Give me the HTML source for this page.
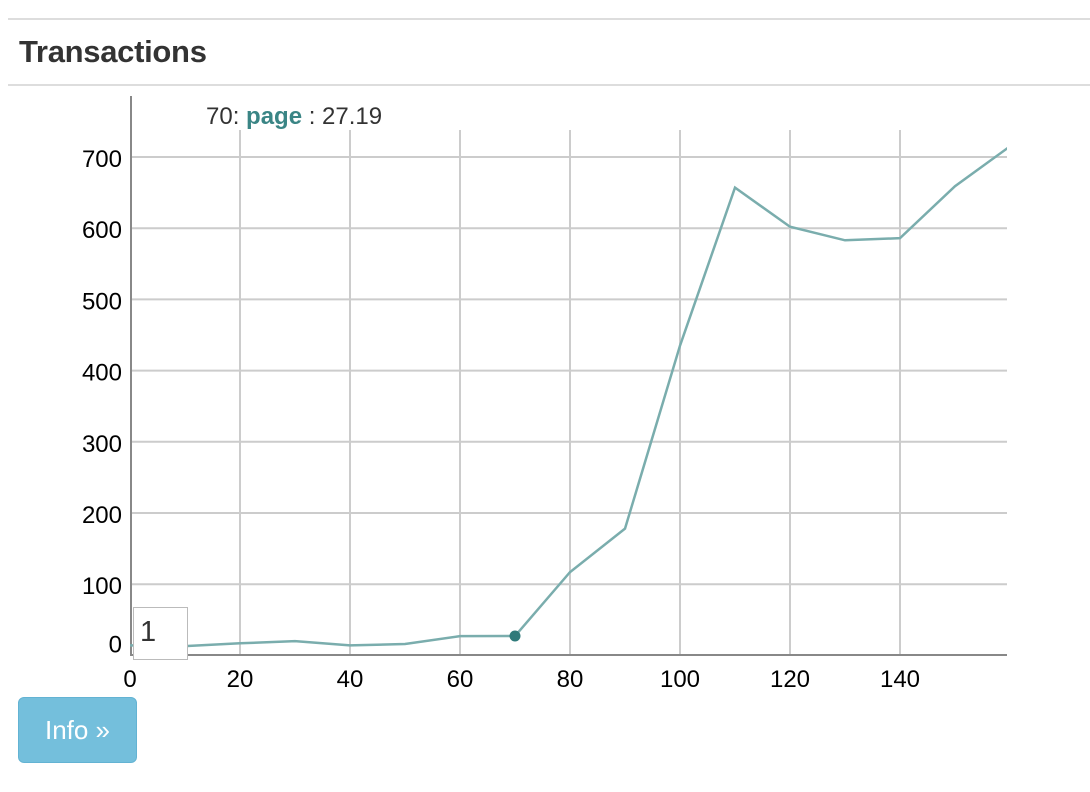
<!DOCTYPE html>
<html><head><meta charset="utf-8"><style>
body{margin:0;background:#fff;font-family:"Liberation Sans",sans-serif;}
#wrap{position:relative;width:1090px;height:792px;overflow:hidden;}
.hr{position:absolute;left:8px;right:0;height:2px;background:#ddd;}
h3{position:absolute;left:19px;top:34px;margin:0;font-size:31px;font-weight:bold;color:#333;letter-spacing:-0.3px;}
#box{position:absolute;left:133px;top:607px;width:55px;height:53px;border:1px solid #bbb;background:#fff;box-sizing:border-box;font-size:29px;color:#333;padding:8px 0 0 6px;}
#btn{position:absolute;left:18px;top:697px;width:119px;height:66px;background:#74bfdc;border:1px solid #63b3d3;border-radius:6px;box-sizing:border-box;color:#fff;font-size:26px;text-align:center;line-height:64px;}
</style></head><body>
<div id="wrap">
<div class="hr" style="top:18px"></div>
<h3>Transactions</h3>
<div class="hr" style="top:84px"></div>
<svg id="chart" width="1090" height="792" style="position:absolute;left:0;top:0"></svg>
<div id="box">1</div>
<div id="btn">Info »</div>
</div>
<script>
const xValues=[0,10,20,30,40,50,60,70,80,90,100,110,120,130,140,150,160];
const yValues=[14,13,17,20,14,16,27,27.19,117,178,435,657,602,583,586,659,715];
const xTicks=[0,20,40,60,80,100,120,140];
const yTicks=[0,100,200,300,400,500,600,700];
const NS="http://www.w3.org/2000/svg";
const svg=document.getElementById('chart');
const X=v=>130+v*5.5, Y=v=>655.4-v*0.712;
function mk(t,a){const e=document.createElementNS(NS,t);for(const k in a)e.setAttribute(k,a[k]);svg.appendChild(e);return e;}
const clip=mk('clipPath',{id:'cp'});const cr=document.createElementNS(NS,'rect');
cr.setAttribute('x',130);cr.setAttribute('y',95);cr.setAttribute('width',877);cr.setAttribute('height',562);clip.appendChild(cr);
xTicks.forEach(v=>{if(v===0)return;const l=mk('line',{x1:X(v),x2:X(v),y1:130,y2:655,stroke:'#ccc','stroke-width':2});
});
yTicks.forEach(v=>{if(v===0)return;const l=mk('line',{x1:130,x2:1007,y1:Y(v),y2:Y(v),stroke:'#ccc','stroke-width':2});
});
xTicks.forEach(v=>{const t=mk('text',{x:X(v),y:687,'text-anchor':'middle','font-size':24,fill:'#000'});t.textContent=v;
});
yTicks.forEach(v=>{const t=mk('text',{x:122,y:Y(v)+(v===0?-3:10),'text-anchor':'end','font-size':24,fill:'#000'});t.textContent=v;
});
const ya=mk('line',{x1:131,x2:131,y1:96,y2:656,stroke:'#888','stroke-width':2});

const xa=mk('line',{x1:130,x2:1007,y1:655,y2:655,stroke:'#888','stroke-width':2});

const p=mk('polyline',{points:xValues.map((x,i)=>X(x)+','+Y(yValues[i])).join(' '),fill:'none',stroke:'#7aadad','stroke-width':2.5,'clip-path':'url(#cp)'});

const hi=7;
const d=mk('circle',{cx:X(xValues[hi]),cy:Y(yValues[hi]),r:5.5,fill:'#2f7a7a'});

const tt=mk('text',{x:206,y:124,'font-size':24,fill:'#333'});
tt.innerHTML='70: <tspan font-weight="bold" fill="#3a8585">page</tspan> : 27.19';

</script>
</body></html>
